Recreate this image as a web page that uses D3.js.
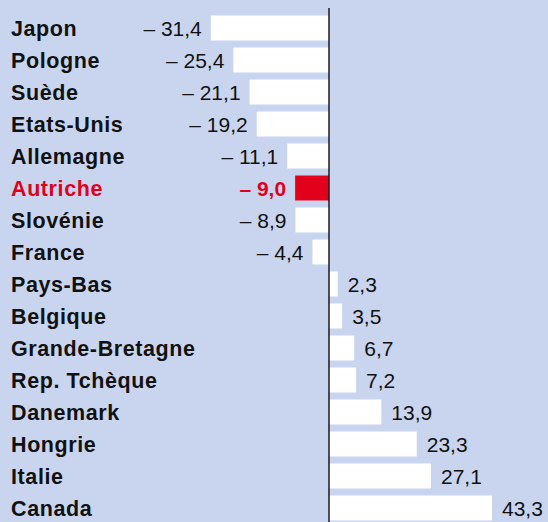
<!DOCTYPE html>
<html><head><meta charset="utf-8">
<script src="https://cdn.jsdelivr.net/npm/d3@7"></script>
<style>html,body{margin:0;padding:0;background:#c9d5ef;}svg{display:block;}</style>
</head><body>
<script>
const countries = ["Japon","Pologne","Suède","Etats-Unis","Allemagne","Autriche","Slovénie","France","Pays-Bas","Belgique","Grande-Bretagne","Rep. Tchèque","Danemark","Hongrie","Italie","Canada"];
const values = [-31.4,-25.4,-21.1,-19.2,-11.1,-9.0,-8.9,-4.4,2.3,3.5,6.7,7.2,13.9,23.3,27.1,43.3];
const highlight = "Autriche";

const W = 548, H = 522;
const svg = d3.select("body").append("svg").attr("width", W).attr("height", H);
svg.append("rect").attr("width", W).attr("height", H).attr("fill", "#c9d5ef");

const x = d3.scaleLinear().domain([0, 43.3]).range([329, 492]);
const y = d3.scaleBand().domain(countries).range([12, 524]).paddingInner(0.22).paddingOuter(0.11);

const data = countries.map((c, i) => ({c, v: values[i]}));
const fmt = v => (v < 0 ? "\u2013 " : "") + d3.format(".1f")(Math.abs(v)).replace(".", ",");
const red = "#e2001a";

svg.selectAll("rect.bar").data(data).join("rect").attr("class", "bar")
  .attr("x", d => Math.min(x(0), x(d.v)))
  .attr("width", d => Math.abs(x(d.v) - x(0)))
  .attr("y", d => y(d.c)).attr("height", y.bandwidth())
  .attr("fill", d => d.c === highlight ? red : "#ffffff");

svg.append("line").attr("x1", x(0)).attr("x2", x(0)).attr("y1", 8).attr("y2", H)
  .attr("stroke", "#1a1a1a").attr("stroke-width", 1.5);

svg.selectAll("text.cat").data(data).join("text").attr("class", "cat")
  .attr("x", 11).attr("y", d => y(d.c) + y.bandwidth() / 2 + 7.5)
  .attr("font-family", "Liberation Sans, Arial, sans-serif").attr("font-weight", "bold")
  .attr("font-size", 21.5).attr("letter-spacing", 0.6)
  .attr("fill", d => d.c === highlight ? red : "#111")
  .text(d => d.c);

svg.selectAll("text.val").data(data).join("text").attr("class", "val")
  .attr("x", d => d.v < 0 ? x(d.v) - 9 : x(d.v) + 10)
  .attr("y", d => y(d.c) + y.bandwidth() / 2 + 8)
  .attr("text-anchor", d => d.v < 0 ? "end" : "start")
  .attr("font-family", "Liberation Sans, Arial, sans-serif")
  .attr("font-weight", d => d.c === highlight ? "bold" : "normal")
  .attr("font-size", 21)
  .attr("fill", d => d.c === highlight ? red : "#111")
  .text(d => fmt(d.v));
</script>
</body></html>
